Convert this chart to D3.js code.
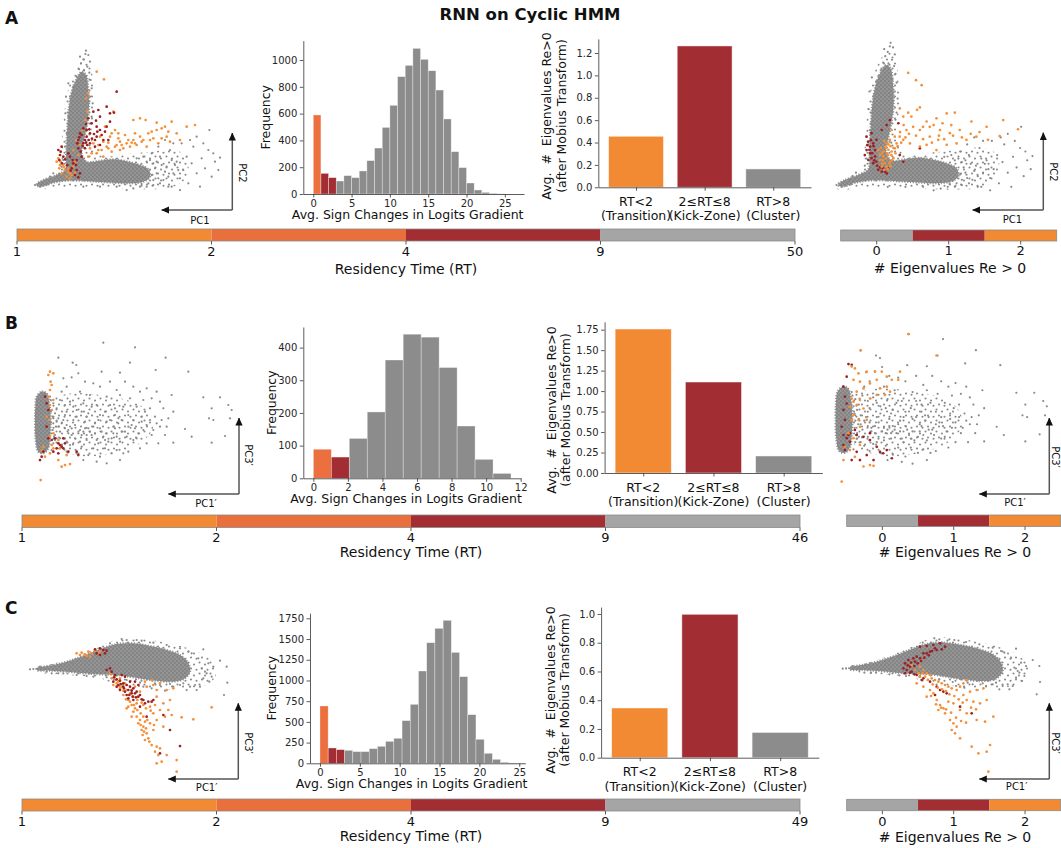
<!DOCTYPE html>
<html>
<head>
<meta charset="utf-8">
<script src="https://cdn.jsdelivr.net/npm/d3@7/dist/d3.min.js"></script>
<style>
html,body{margin:0;padding:0;background:#fff;}
svg{display:block;}
</style>
</head>
<body>
<svg id="fig" width="1061" height="848"></svg>
<script>
// ===================== Data =====================
const figureTitle = "RNN on Cyclic HMM";
const panelLetters = ["A", "B", "C"];

// Histograms: average sign changes in the logits gradient (counts per bin)
const histCountsA = [590,154,122,97,137,122,172,249,343,497,662,876,960,1087,1005,920,776,560,316,197,82,30,12,5,1];
const histCountsB = [89,65,122,203,362,441,432,339,160,58,15];
const histCountsC = [692,185,165,157,141,141,177,205,265,302,515,712,1114,1456,1629,1726,1339,1046,587,290,121,48,12,4,1];
const histBinWidth = [1.0, 1.04, 1.03];
// number of leading bins that are "transition" and "kick-zone"
const histHighlightA = [1, 2];
const histHighlightB = [1, 1];
const histHighlightC = [1, 2];
const histXTicksA = [0,5,10,15,20,25];
const histXTicksB = [0,2,4,6,8,10,12];
const histXTicksC = [0,5,10,15,20,25];
const histYTicksA = [0,200,400,600,800,1000];
const histYTicksB = [0,100,200,300,400];
const histYTicksC = [0,250,500,750,1000,1250,1500,1750];

// Average number of eigenvalues with Re>0 per residency-time class
const rtClassLines = [["RT<2","(Transition)"],["2\u2264RT\u22648","(Kick-Zone)"],["RT>8","(Cluster)"]];
const eigAvgA = [0.456, 1.263, 0.164];
const eigAvgB = [1.758, 1.111, 0.208];
const eigAvgC = [0.346, 0.998, 0.176];
const barYTicksA = [0,0.2,0.4,0.6,0.8,1.0,1.2];
const barYTicksB = [0,0.25,0.5,0.75,1.0,1.25,1.5,1.75];
const barYTicksC = [0,0.2,0.4,0.6,0.8,1.0];

// Residency-time colour bar boundaries
const rtBoundsA = [1,2,4,9,50];
const rtBoundsB = [1,2,4,9,46];
const rtBoundsC = [1,2,4,9,49];
const eigCountTicks = [0,1,2];

// ---- Hidden-state projections (PC units) ----
// dense core outline, looser halo outline, and individual points
const cloudCoreA = [[1.10,0.38],[1.30,0.50],[1.65,0.63],[1.95,0.80],[1.98,1.20],[2.00,1.70],[2.03,2.20],[2.07,2.70],[2.15,3.15],[2.28,3.50],[2.45,3.75],[2.58,3.65],[2.65,3.20],[2.67,2.70],[2.62,2.20],[2.52,1.70],[2.45,1.30],[2.60,1.05],[3.00,1.08],[3.40,1.12],[3.85,1.05],[4.20,0.95],[4.45,0.82],[4.50,0.60],[4.30,0.45],[3.90,0.40],[3.40,0.42],[2.90,0.45],[2.45,0.48],[2.00,0.48],[1.60,0.42],[1.30,0.32],[1.12,0.32]];
const cloudHaloA = [[1.05,0.30],[1.50,0.55],[1.80,0.80],[1.85,1.50],[1.90,2.20],[2.00,3.00],[2.15,3.60],[2.35,4.00],[2.55,4.15],[2.72,3.90],[2.80,3.30],[2.82,2.50],[2.75,1.80],[3.00,1.25],[3.80,1.28],[4.50,1.35],[5.20,1.40],[5.60,1.20],[5.60,0.60],[5.20,0.30],[4.40,0.22],[3.40,0.25],[2.40,0.30],[1.60,0.25],[1.10,0.22]];
const cloudGrayA = [[2.58,4.38],[2.65,4.25],[2.50,4.12],[2.43,4.00],[2.70,4.05],[2.37,3.82],[2.62,3.90],[2.52,3.80],[2.68,3.72],[2.30,3.60],[2.72,3.50],[2.20,3.30],[2.75,3.25],[2.12,2.90],[2.78,2.80],[2.05,2.40],[2.75,2.40],[2.00,1.90],[1.95,1.50],[1.90,1.10],[1.85,0.90],
[1.60,0.70],[1.50,0.60],[1.40,0.52],[1.75,0.55],[1.20,0.30],[1.05,0.35],[1.25,0.42],
[4.60,1.00],[4.70,0.70],[4.80,1.20],[4.90,0.50],[5.00,0.90],[5.10,1.40],[5.15,0.30],[5.20,0.70],[5.30,1.05],[5.40,0.55],[5.45,1.60],[5.50,0.80],[5.60,1.20],[5.65,0.40],[5.75,1.00],[5.80,1.50],[5.90,0.70],[6.00,0.30],[6.05,1.15],[6.15,0.85],[6.25,1.40],[6.35,0.60],[6.45,1.05],[6.60,1.17],[6.55,0.80],[5.70,1.70],[5.90,1.80],[5.40,0.20],[5.05,0.30],[4.60,0.35],[4.75,1.50],[4.95,1.70],[5.20,1.60],[6.10,1.60],[6.28,2.00],[6.40,1.30],
[3.00,0.30],[3.50,0.30],[4.00,0.25],[2.50,0.30],[4.20,0.30],[4.40,0.30],[3.80,0.20],
[4.30,1.20],[4.55,1.30],[4.10,1.15],[4.70,1.05],
[4.55,0.65],[4.65,0.85],[4.75,0.55],[4.85,0.95],[4.95,0.75],[5.05,0.60],[4.60,0.50],[4.80,0.40],[5.25,0.95],[5.35,0.80],[5.15,1.10],[4.50,1.10],[4.40,1.05],[4.35,0.70],[4.45,0.40],[4.25,0.38],
[1.96,2.50],[1.98,3.00],[2.70,3.00],[2.72,2.20],[2.60,1.55],[2.05,3.40],[2.40,4.20],[2.56,4.28]];
const rtOrangeA = [[2.90,3.75],[3.12,3.52],[3.40,2.55],[4.00,2.30],[4.20,2.35],[4.37,2.30],[4.70,2.22],[5.15,2.25],[5.60,2.10],[5.85,2.15],[4.95,2.10],[4.70,2.00],[4.45,1.90],[4.20,1.80],[4.00,1.70],[3.80,1.60],[3.50,1.55],[3.20,1.50],[3.05,1.40],[2.90,1.30],[3.60,1.40],[3.90,1.50],[4.30,1.70],[4.60,1.75],[5.00,1.80],[5.30,1.90],[5.40,1.70],[3.45,2.00],[3.30,1.80],[3.15,2.10],[3.00,1.80],[2.80,1.60],
[1.75,1.15],[1.82,1.05],[1.90,0.95],[1.95,0.80],[2.05,0.75],[2.10,0.70],[2.15,0.65],[2.00,0.60],[1.85,0.70],[1.78,0.85],[2.20,0.90],[2.25,1.05],[2.35,1.25],[2.40,1.55],[2.48,2.00],[2.55,2.30],[2.62,2.55],[2.58,2.95],[2.64,3.10],[2.28,1.70],[2.20,1.40],
[3.60,1.65],[3.70,1.45],[3.95,1.62],[4.10,1.55],[3.35,1.35],[3.25,1.62],[2.95,1.55],[4.40,1.50],[4.75,1.60],[5.10,1.65],[3.75,1.85],[3.55,1.90],[4.05,1.90],[2.70,1.45],[2.65,1.20],[3.10,1.20],
[3.25,1.45],[3.45,1.50],[3.65,1.55],[3.85,1.70],[4.05,1.60],[4.25,1.65],[4.50,1.70],[4.85,1.75],[4.55,1.95],[4.85,2.05],[5.05,1.95],[3.35,1.90],[3.55,1.75],[3.10,1.65],[2.95,1.40],[2.75,1.30],[1.80,0.95],[1.92,0.88],[2.05,0.85],[1.70,1.05],[2.10,0.55],[2.25,0.72]];
const rtRedA = [[3.50,3.15],[3.42,2.52],[3.30,2.25],[3.20,2.10],[3.00,2.00],[2.90,1.80],[2.70,1.90],[2.60,1.80],[2.50,1.60],[2.40,1.90],[2.35,1.70],[2.55,1.45],[2.70,1.60],[2.85,1.50],[3.00,1.55],[3.10,1.70],[3.25,1.70],[2.90,2.10],[2.75,2.20],[2.65,2.35],[2.80,2.55],[3.00,2.40],[3.30,2.50],[1.75,1.40],[1.80,1.25],[1.85,1.50],[2.20,1.00],[2.30,0.80],[2.25,0.65],[2.40,0.70],[2.15,0.85],[2.10,1.20],[2.45,1.20],[2.60,2.00],[2.95,2.60],[3.20,2.70],
[2.45,1.85],[2.55,1.70],[2.62,1.55],[2.50,2.05],[2.35,1.45],[2.42,1.35],[1.82,1.35],[1.90,1.20],[2.28,0.95],[2.35,0.58],[3.15,1.95],[2.85,1.70],
[2.32,1.60],[2.38,1.78],[2.48,1.52],[2.58,1.62],[2.66,1.70],[2.76,1.74],[2.82,1.88],[2.92,1.95],[3.05,1.85],[2.68,2.02],[2.58,2.18],[2.88,2.28],[1.78,1.10],[1.86,1.00],[1.95,1.12],[2.02,0.95],[2.12,0.78],[2.18,1.10],[2.30,1.10],[2.05,1.30]];
const eigOrangeA = [[3.08,3.53],[3.30,3.32],[3.46,3.18],[2.84,2.52],[3.08,2.40],[3.41,2.55],[3.33,2.48],[2.94,2.29],[3.60,2.15],[3.88,2.24],[4.17,2.38],[4.40,2.40],[4.87,2.15],[5.30,2.00],[5.77,2.19],[6.19,1.93],[5.67,1.74],[5.34,1.63],[5.01,1.72],[4.73,1.63],[4.45,1.53],[4.17,1.49],[3.93,1.63],[3.69,1.72],[3.41,1.91],[3.22,2.00],[3.03,1.91],[2.84,1.72],[2.75,1.53],[2.70,1.39],[2.61,1.91],[2.94,1.63],[3.13,1.53],[3.41,1.44],[3.60,1.49],[3.88,1.34],[4.26,1.82],[4.54,1.91],[3.98,1.91],[3.17,2.29],[3.69,2.00],
[2.23,1.34],[2.33,1.25],[2.37,1.16],[2.28,1.06],[2.42,0.97],[2.47,0.87],[2.56,1.01],[2.51,1.20],[2.61,1.30],[2.66,1.11],[2.33,0.87],[2.42,1.44],[2.47,1.53],[2.56,1.63],[2.70,1.72],
[2.30,1.40],[2.38,1.30],[2.45,1.10],[2.52,1.35],[2.58,1.45],[2.40,1.60],[2.55,0.95],[2.62,1.05],[2.35,0.95],[2.48,1.25],
[2.45,1.40],[2.52,1.50],[2.60,1.20],[2.66,1.40],[2.36,1.05],[2.28,1.20],[2.50,0.80],[2.58,0.88],[2.40,0.78],[2.72,1.25],[2.78,1.45],[2.88,1.55],[3.00,1.70],[3.10,1.80],[3.30,1.75],[3.50,1.65],[3.75,1.55],[3.95,1.75],[4.10,1.65],[4.35,1.75],[4.60,1.70],[4.85,1.80],[5.10,1.85],[3.50,2.00],[3.80,2.05],[4.05,2.10],[4.30,2.05],[2.95,2.05],[2.85,1.85]];
const eigRedA = [[1.90,1.72],[1.95,1.58],[2.00,1.44],[2.00,1.25],[2.04,1.11],[1.95,1.06],[2.09,0.97],[2.14,1.34],[2.09,1.53],[2.18,1.63],[2.04,1.82],[2.23,0.78],[2.33,0.73],[2.42,0.73],[2.51,0.82],[2.47,0.68],[2.37,0.82],[2.14,1.16],[2.18,1.01],[1.90,1.34],[1.85,1.20],[2.47,2.05],[2.56,2.19],[2.33,1.91],[3.41,1.39],[2.94,1.01],[2.84,1.20],[2.80,2.10],
[1.98,1.35],[2.06,1.25],[2.10,1.45],[2.02,1.62],[1.92,1.48],[2.12,1.05],[2.20,0.90],[2.28,0.85]];

const cloudCoreB = [[1.10,2.70],[1.25,2.85],[1.40,2.80],[1.48,2.50],[1.52,2.00],[1.50,1.50],[1.45,1.15],[1.30,1.00],[1.15,1.05],[1.07,1.40],[1.05,2.00],[1.06,2.40]];
const cloudHaloB = [[1.55,2.60],[2.20,2.80],[3.00,2.75],[3.80,2.60],[4.40,2.30],[4.60,1.80],[4.20,1.30],[3.40,1.00],[2.60,0.90],[2.00,1.00],[1.60,1.20],[1.50,1.80]];
const cloudGrayB = [[3.10,4.32],[4.05,4.18],[1.75,3.87],[2.18,3.72],[2.29,3.65],[3.90,3.72],[4.97,3.87],[5.65,3.45],[4.67,3.50],[3.05,3.45],[3.60,3.42],[2.35,3.40],[2.15,3.28],[1.90,3.25],[6.10,2.68],[6.60,2.68],[6.85,2.45],[6.95,2.30],[6.35,2.35],[6.27,2.05],[6.40,2.00],[6.90,2.05],[5.55,1.73],[5.75,1.50],[6.35,1.32],[6.75,1.52],[5.20,1.32],
[2.55,3.15],[2.80,3.10],[3.30,3.15],[3.75,3.15],[4.00,3.00],[4.40,2.95],[3.00,3.00],[3.50,2.90],[4.20,2.85],[4.70,2.85],[5.15,2.75],[2.40,2.85],[2.70,2.75],[3.20,2.70],[3.60,2.75],[3.90,2.65],[4.30,2.60],[4.55,2.65],[4.80,2.55],[2.00,3.00],[1.85,2.85],[1.80,2.60],[2.10,2.55],[2.50,2.50],[2.90,2.45],[3.30,2.45],[3.70,2.40],[4.10,2.40],[4.50,2.35],[4.90,2.35],[5.20,2.25],[1.70,2.35],[2.00,2.25],[2.30,2.30],[2.65,2.20],[3.00,2.15],[3.45,2.15],[3.85,2.15],[4.25,2.10],[4.65,2.10],[5.05,2.05],[1.60,2.05],[1.90,2.00],[2.20,2.00],[2.55,1.95],[2.85,1.90],[3.20,1.95],[3.55,1.90],[3.95,1.85],[4.40,1.85],[4.80,1.80],[1.75,1.80],[2.05,1.70],[2.40,1.70],[2.70,1.65],[3.05,1.65],[3.40,1.60],[3.75,1.65],[4.15,1.60],[4.55,1.55],[4.95,1.55],[1.65,1.55],[1.95,1.45],[2.25,1.45],[2.60,1.40],[2.90,1.40],[3.25,1.35],[3.60,1.35],[4.00,1.40],[4.40,1.30],[2.10,1.25],[2.45,1.20],[2.80,1.15],[3.15,1.15],[3.50,1.10],[3.85,1.05],[4.20,1.15],[2.30,1.00],[2.65,0.95],[3.00,0.90],[3.35,1.00],[3.70,1.00],[2.50,0.80],[2.90,0.75],[3.20,0.70],[3.60,0.80],[2.00,1.05],[1.85,1.20],[1.70,1.95],[1.60,2.50],[1.50,2.70],[4.75,1.30],[2.30,2.10],[2.60,2.10],[2.80,1.80],[3.10,1.50],[3.40,1.80],[2.00,1.85],[2.15,1.55],[2.45,1.55],[2.75,1.55],[1.80,1.65],[1.65,1.40],[1.95,2.15],[2.25,1.85],[2.55,1.75],[2.95,2.00],[3.30,2.00],[3.65,2.00],[4.00,2.00],[4.30,1.70],[4.60,1.70],[5.00,1.80],[3.80,1.50],[4.10,1.45],[3.50,1.50],
[1.55,2.30],[1.58,2.10],[1.60,1.90],[1.58,1.70],[1.62,1.50],[1.60,1.30],[1.55,1.10],[1.52,2.60],[1.65,2.20],[1.68,1.80],[1.70,1.45],
[1.75,2.05],[1.85,1.90],[1.95,1.75],[2.05,1.60],[2.15,1.75],[2.35,1.60],[2.50,1.65],[2.65,1.75],[2.85,1.60],[3.00,1.75],[3.20,1.60],[3.35,1.45],[2.40,1.35],[2.20,1.30],[2.00,1.35],[1.80,1.45],[1.75,1.30],[2.60,1.55],[2.95,1.30],[3.15,1.40],[3.45,1.75],[3.65,1.65],[3.85,1.80],[4.05,1.75],[4.25,1.95],[4.50,2.00],[4.70,1.90],[4.85,2.00],[3.55,2.05],[3.15,2.25],[2.45,2.25],[2.20,2.40],[1.95,2.45],[2.75,2.40],[3.45,2.35],[4.35,2.25]];
const rtOrangeB = [[1.50,3.45],[1.60,3.40],[1.45,3.35],[1.52,3.15],[1.55,3.05],[1.50,2.90],[1.45,2.70],[1.60,2.60],[1.50,2.45],[1.55,2.30],[1.40,2.10],[1.48,2.00],[1.60,1.60],[1.50,1.50],[1.55,1.25],[1.60,1.15],[1.50,1.00],[1.30,1.20],[1.25,1.10],[1.35,0.90],[1.75,0.80],[1.85,0.60],[1.95,0.65],[2.10,0.68],[2.00,0.95],[1.80,1.15],[1.22,0.20],[1.75,1.40]];
const rtRedB = [[1.35,2.70],[1.40,2.50],[1.45,2.30],[1.40,1.80],[1.45,1.45],[1.55,1.40],[1.65,1.45],[1.75,1.30],[1.80,1.25],[1.85,1.20],[1.90,1.15],[1.70,1.15],[1.60,1.05],[1.75,1.00],[1.30,1.05],[1.25,0.90],[1.20,0.80],[1.90,1.45],[1.95,1.30],[2.05,1.05],[2.35,0.95],[2.30,1.05]];
const eigOrangeB = [[3.08,4.32],[1.75,3.86],[3.87,3.72],[1.50,3.41],[1.59,3.36],[1.69,3.22],[1.92,3.27],[2.15,3.27],[2.34,3.27],[1.55,3.04],[1.73,2.99],[2.01,2.94],[2.20,3.04],[2.48,3.13],[2.62,3.04],[2.80,3.04],[2.85,3.27],[2.48,2.85],[2.29,2.80],[1.83,2.80],[1.64,2.71],[1.50,2.52],[1.55,2.43],[1.73,2.48],[2.01,2.52],[2.20,2.62],[2.43,2.62],[2.57,2.71],[1.64,2.34],[1.83,2.24],[1.55,2.06],[1.69,1.92],[1.92,1.92],[1.73,1.73],[1.41,1.55],[1.55,1.41],[1.31,1.17],[1.45,1.08],[1.73,1.22],[1.59,0.89],[1.27,0.80],[1.22,0.20],[1.83,0.62],[2.01,0.66],[2.11,0.64],[1.45,2.29],[1.50,1.92]];
const eigRedB = [[1.41,3.48],[1.50,3.46],[1.36,3.13],[1.27,2.85],[1.31,2.57],[1.36,2.38],[1.27,2.20],[1.31,1.92],[1.22,1.73],[1.27,1.50],[1.36,1.41],[1.45,1.31],[1.27,1.22],[1.31,1.08],[1.45,1.55],[1.64,1.50],[1.83,1.45],[2.01,1.36],[2.20,1.17],[2.29,1.03],[2.38,0.99],[1.64,1.03],[1.92,0.94],[2.62,0.85],[2.11,0.80],[1.73,0.80],[1.50,0.80],[1.41,1.50],[1.59,1.64],[2.01,1.55],[2.48,1.08]];

const cloudCoreC = [[1.10,3.55],[1.60,3.65],[2.00,3.75],[2.50,3.92],[3.00,4.12],[3.50,4.28],[4.00,4.30],[4.50,4.22],[5.00,4.10],[5.40,3.95],[5.65,3.70],[5.70,3.45],[5.50,3.22],[5.10,3.15],[4.50,3.20],[4.00,3.28],[3.50,3.35],[3.00,3.37],[2.50,3.40],[2.00,3.45],[1.50,3.48],[1.10,3.50]];
const cloudHaloC = [[1.00,3.50],[2.00,3.80],[3.00,4.20],[3.60,4.45],[4.50,4.40],[5.50,4.20],[6.20,3.90],[6.50,3.50],[6.30,3.10],[5.60,2.95],[4.80,2.90],[4.20,3.00],[3.50,3.05],[3.00,3.25],[2.00,3.35],[1.20,3.42]];
const cloudGrayC = [[3.65,4.43],[3.30,4.30],[4.10,4.40],[4.60,4.32],[5.00,4.25],[5.40,4.15],[5.75,4.00],[6.10,4.12],[6.60,3.78],[6.80,3.60],[6.28,3.15],[6.82,3.12],[6.72,2.75],[6.00,3.00],[5.70,3.00],[5.20,3.00],[4.80,3.05],[5.90,2.90],[6.20,3.40],[5.60,2.90],[6.40,3.60],[1.00,3.53],[0.90,3.52],[1.20,3.60],[1.40,3.45],[1.75,3.40],[2.30,3.35],[2.80,3.30],[4.95,2.88],[4.55,2.95],[4.30,3.00],[5.40,3.05],[6.10,3.25],
[6.05,3.55],[6.15,3.45],[5.95,3.85],[5.65,4.05],[6.25,3.70],[6.35,3.30],[5.85,3.05],[4.25,4.38],[3.80,4.40],[3.40,4.22],[2.90,4.05],[2.60,3.88],[2.20,3.70],[1.80,3.62],[1.55,3.40],[1.90,3.40],[2.60,3.32],[3.20,3.28],[3.80,3.20],[4.20,3.12],[4.65,3.10],[5.10,3.08],[5.50,3.10]];
const rtOrangeC = [[2.30,4.00],[2.45,4.02],[2.55,3.97],[2.65,4.05],[2.75,4.00],[2.85,4.08],[2.95,4.02],[2.60,3.92],[2.70,3.90],[2.40,3.95],[3.00,4.05],
[3.30,3.40],[3.45,3.30],[3.55,3.15],[3.40,3.05],[3.65,3.00],[3.80,2.90],[3.70,2.75],[3.85,2.60],[3.95,2.45],[3.80,2.35],[4.00,2.25],[4.10,2.10],[4.20,2.00],[4.30,1.80],[4.25,1.70],[4.40,1.60],[4.45,1.45],[4.70,1.20],[4.80,1.15],[5.00,0.95],[4.00,2.70],[4.20,2.85],[4.40,3.00],[4.60,3.05],[4.80,3.10],[5.00,2.90],[5.20,2.95],[4.70,2.70],[4.90,2.50],[5.10,2.60],[5.45,2.08],[5.80,2.02],[6.35,2.38],[4.50,2.40],[4.30,2.45],[4.10,2.50],[3.95,2.90],[3.60,3.25],[3.75,3.10],[4.05,3.00],[4.35,3.15],[4.55,3.20],[4.70,2.90],[4.15,1.90],[4.35,1.95],[4.60,2.20],[5.05,2.30],[4.70,2.00],[4.60,1.70],
[4.22,1.85],[4.32,1.65],[4.38,1.75],[4.28,1.55],[4.48,1.35],[4.55,1.25],[4.35,1.40],[4.65,1.05],[4.75,0.95],[4.70,0.70],[4.85,0.75],[5.30,0.80],[4.90,1.80],[5.15,2.15],[3.90,2.80],[3.60,2.95],[3.50,3.10],[3.85,2.40],[4.05,2.35],[3.95,2.10],[5.30,0.45],
[3.35,3.25],[3.48,3.20],[3.58,3.02],[3.70,2.88],[3.78,2.62],[3.90,2.55],[4.02,2.45],[4.12,2.30],[4.22,2.20],[4.30,2.10],[4.42,2.00],[4.50,1.90],[4.62,1.85],[4.12,2.60],[4.25,2.52],[4.38,2.35],[4.52,2.28],[4.65,2.45],[4.80,2.30],[4.95,2.10]];
const rtRedC = [[3.35,3.45],[3.45,3.35],[3.50,3.22],[3.60,3.18],[3.70,3.10],[3.80,3.05],[3.90,3.00],[4.00,2.95],[4.10,2.85],[3.95,2.80],[3.80,2.75],[3.60,2.90],[3.50,3.00],[4.20,2.75],[4.30,2.60],[4.45,2.55],[4.55,2.55],[4.60,2.60],[4.15,3.05],[4.05,3.15],[3.90,3.15],[3.75,3.30],[3.65,3.35],[3.85,2.65],[4.00,2.60],[4.90,2.15],[5.10,1.70],[5.40,1.22],[4.80,1.00],[4.40,2.10],[3.30,3.55],[3.20,3.50],[3.40,3.15],[4.20,2.40],[3.70,3.00],
[2.85,4.12],[3.00,4.15],[3.10,4.10],[3.20,4.08],[3.15,4.00],[3.00,3.95],[2.90,4.00],
[3.42,3.28],[3.55,3.05],[3.62,3.08],[3.72,2.95],[3.85,2.90],[3.95,2.88],[4.05,2.80],[4.15,2.70],[4.25,2.62],[4.35,2.50],[3.75,2.85],[3.88,2.75],[3.98,2.70],[4.08,2.68]];
const eigOrangeC = [[2.97,3.63],[3.07,3.48],[3.17,3.38],[3.22,3.28],[3.37,3.28],[3.42,3.38],[3.52,3.33],[3.57,3.23],[3.67,3.18],[3.77,3.13],[3.87,3.08],[3.97,3.03],[4.07,2.98],[4.17,2.93],[4.32,2.88],[4.42,2.98],[4.52,3.08],[4.62,3.18],[3.32,3.48],[3.22,3.58],[3.12,3.08],[3.32,2.98],[3.52,2.88],[3.62,2.78],[3.42,2.68],[3.72,2.58],[3.82,2.43],[3.92,2.33],[3.77,2.28],[3.97,2.18],[4.12,1.98],[4.22,1.88],[4.32,1.78],[4.17,1.68],[4.27,1.58],[4.42,1.43],[4.62,2.58],[4.82,2.53],[5.02,2.48],[5.22,2.58],[5.42,2.08],[5.17,1.93],[4.92,1.98],[4.77,1.18],[4.97,0.98],[5.22,1.03],[5.32,1.23],[5.27,0.43],[4.52,2.73],[4.72,2.83],[4.92,2.88],[5.12,2.93],[4.22,2.48],[4.42,2.28],[4.62,2.18],[4.07,2.53],
[3.30,3.38],[3.45,3.18],[3.60,3.05],[3.75,2.95],[3.88,2.90],[4.00,2.85],[4.10,2.75],[4.25,2.70],[4.38,2.60],[4.50,2.50],[3.55,2.70],[3.70,2.45],[3.85,2.35],[4.00,2.30],[4.15,2.20],[4.30,2.05],[4.45,1.95],[4.60,1.90],[4.75,2.35],[4.90,2.30]];
const eigRedC = [[3.22,4.18],[3.42,4.20],[3.62,4.23],[3.82,4.28],[3.97,4.18],[3.72,4.08],[3.52,4.03],[3.32,3.98],[3.12,3.88],[3.02,3.83],[2.87,3.78],[2.77,3.68],[2.72,3.53],[2.82,3.48],[2.92,3.58],[3.07,3.73],[3.22,3.83],[3.42,3.98],[3.67,4.13],[3.87,4.10],[2.77,3.38],[2.97,3.43],[3.12,3.33],[3.32,3.23],[3.52,3.13],[3.72,2.98],[3.82,2.88],[3.92,2.83],[4.02,2.78],[3.67,2.73],[4.77,2.18],[4.42,2.38],[3.27,3.18],
[2.85,3.62],[2.95,3.70],[3.05,3.60],[3.15,3.68],[3.25,3.75],[3.35,3.85],[3.48,3.92],[3.58,4.05],[2.92,3.40],[3.05,3.35]];

// ===================== Styling =====================
const FONT = '"DejaVu Sans", sans-serif';
const COL_TRANS = "#F28A33";      // RT<2 bars / colour bar
const COL_TRANS_HIST = "#EC6F3F"; // first histogram bin and 2..4 colour bar segment
const COL_KICK = "#A22E33";
const COL_CLUSTER = "#8C8C8C";
const COL_CBAR_GRAY = "#A5A5A5";
const PT_GRAY = "#8A8A8A", PT_ORANGE = "#F5903A", PT_RED = "#9C1F22";
const rtSegColors = [COL_TRANS, "#E9703D", COL_KICK, COL_CBAR_GRAY];
const eigSegColors = [COL_CBAR_GRAY, COL_KICK, COL_TRANS];

const svg = d3.select("#fig").attr("font-family", FONT);

const defs = svg.append("defs");
defs.append("marker").attr("id", "ah").attr("viewBox", "0 -4 8 8")
  .attr("refX", 7.5).attr("refY", 0).attr("markerUnits", "userSpaceOnUse")
  .attr("markerWidth", 8).attr("markerHeight", 8).attr("orient", "auto")
  .append("path").attr("d", "M0,-3.6L8,0L0,3.6Z").attr("fill", "#111");
// speckled texture for the dense part of a point cloud
const coreTex = defs.append("pattern").attr("id", "coreTex").attr("patternUnits", "userSpaceOnUse")
  .attr("width", 4).attr("height", 4);
coreTex.append("rect").attr("width", 4).attr("height", 4).attr("fill", "#959595");
coreTex.append("circle").attr("cx", 1).attr("cy", 1).attr("r", 1.15).attr("fill", "#838383");
coreTex.append("circle").attr("cx", 3).attr("cy", 3).attr("r", 1.15).attr("fill", "#868686");
// looser texture for the surrounding, less dense part
const haloTex = defs.append("pattern").attr("id", "haloTex").attr("patternUnits", "userSpaceOnUse")
  .attr("width", 11).attr("height", 11);
[[1.5,2.5],[7,4.5],[4,8.5],[9.5,9.8]].forEach(p => haloTex.append("circle")
  .attr("cx", p[0]).attr("cy", p[1]).attr("r", 1.05).attr("fill", PT_GRAY));

// Title and panel letters
svg.append("text").attr("x", 530).attr("y", 20).attr("text-anchor", "middle")
  .attr("font-weight", "bold").attr("font-size", 16.5).attr("fill", "#111").text(figureTitle);
[[5,24],[5,329],[5,614]].forEach((p, i) => {
  svg.append("text").attr("x", p[0]).attr("y", p[1]).attr("font-weight", "bold")
    .attr("font-size", 17).attr("fill", "#111").text(panelLetters[i]);
});

function styleAxis(g) {
  g.attr("font-family", FONT).attr("font-size", 10);
  g.select(".domain").attr("stroke", "#333").attr("stroke-width", 0.8);
  g.selectAll(".tick line").attr("stroke", "#333").attr("stroke-width", 0.8);
  g.selectAll(".tick text").attr("fill", "#262626");
}

// ---------- Histogram ----------
function histogram(cfg) {
  const g = svg.append("g");
  const x = d3.scaleLinear().domain(cfg.xDom).range([cfg.x0, cfg.x1]);
  const y = d3.scaleLinear().domain([0, cfg.yMax]).range([cfg.y0, cfg.y1]);
  const bins = cfg.counts.map((c, i) => ({x0: i * cfg.bw, x1: (i + 1) * cfg.bw, c, i}));
  const [nT, nK] = cfg.hl;
  g.selectAll("rect").data(bins).join("rect")
    .attr("x", d => x(d.x0)).attr("width", d => x(d.x1) - x(d.x0))
    .attr("y", d => y(d.c)).attr("height", d => y(0) - y(d.c))
    .attr("fill", d => d.i < nT ? COL_TRANS_HIST : (d.i < nT + nK ? COL_KICK : COL_CLUSTER))
    .attr("stroke", "rgba(255,255,255,0.55)").attr("stroke-width", 0.6);
  const ax = g.append("g").attr("transform", `translate(0,${cfg.y0})`)
    .call(d3.axisBottom(x).tickValues(cfg.xTicks).tickFormat(d3.format("d")).tickSize(3.5).tickSizeOuter(0).tickPadding(2.5));
  styleAxis(ax);
  const ay = g.append("g").attr("transform", `translate(${cfg.x0},0)`)
    .call(d3.axisLeft(y).tickValues(cfg.yTicks).tickFormat(d3.format("d")).tickSize(3.5).tickSizeOuter(0).tickPadding(2.5));
  styleAxis(ay);
  g.append("text").attr("x", (cfg.x0 + cfg.x1) / 2 - 6).attr("y", cfg.y0 + 20.5)
    .attr("dominant-baseline", "central").attr("text-anchor", "middle")
    .attr("font-size", 12.5).attr("fill", "#111").text("Avg. Sign Changes in Logits Gradient");
  g.append("text").attr("transform", `translate(${cfg.ylabX},${(cfg.y0 + cfg.y1) / 2}) rotate(-90)`)
    .attr("dominant-baseline", "central").attr("text-anchor", "middle")
    .attr("font-size", 12.5).attr("fill", "#111").text("Frequency");
}

// ---------- Bar chart ----------
function barChart(cfg) {
  const g = svg.append("g");
  const x = d3.scaleLinear().domain([-0.55, 2.55]).range([cfg.x0, cfg.x1]);
  const y = d3.scaleLinear().domain([0, cfg.yMax]).range([cfg.y0, cfg.y1]);
  const cols = [COL_TRANS, COL_KICK, COL_CLUSTER];
  g.selectAll("rect").data(cfg.vals).join("rect")
    .attr("x", (d, i) => x(i - 0.4)).attr("width", (d, i) => x(i + 0.4) - x(i - 0.4))
    .attr("y", d => y(d)).attr("height", d => y(0) - y(d))
    .attr("fill", (d, i) => cols[i]).attr("stroke", "rgba(255,255,255,0.6)").attr("stroke-width", 0.8);
  const ax = g.append("g").attr("transform", `translate(0,${cfg.y0})`)
    .call(d3.axisBottom(x).tickValues([0, 1, 2]).tickFormat(() => "").tickSize(3.5).tickSizeOuter(0));
  styleAxis(ax);
  rtClassLines.forEach((lines, i) => {
    lines.forEach((t, k) => {
      g.append("text").attr("x", x(i)).attr("y", cfg.y0 + 14 + k * 14.5)
        .attr("dominant-baseline", "central").attr("text-anchor", "middle")
        .attr("font-size", 12.5).attr("fill", "#111").text(t);
    });
  });
  const ay = g.append("g").attr("transform", `translate(${cfg.x0},0)`)
    .call(d3.axisLeft(y).tickValues(cfg.yTicks).tickFormat(d3.format(cfg.fmt)).tickSize(3.5).tickSizeOuter(0).tickPadding(2.5));
  styleAxis(ay);
  const yc = cfg.ylabY;
  g.append("text").attr("transform", `translate(${cfg.ylabX[0]},${yc}) rotate(-90)`)
    .attr("dominant-baseline", "central").attr("text-anchor", "middle")
    .attr("font-size", 12.5).attr("fill", "#111").attr("xml:space", "preserve").text("Avg.  #  Eigenvalues Re>0");
  g.append("text").attr("transform", `translate(${cfg.ylabX[1]},${yc}) rotate(-90)`)
    .attr("dominant-baseline", "central").attr("text-anchor", "middle")
    .attr("font-size", 12.5).attr("fill", "#111").text("(after Mobius Transform)");
}

// ---------- Projection scatter ----------
function scatter(cfg) {
  const g = svg.append("g");
  const x = d3.scaleLinear().domain([0, 7.5]).range(cfg.xr);
  const y = d3.scaleLinear().domain([0, 5]).range(cfg.yr);
  const outline = d3.line().x(d => x(d[0])).y(d => y(d[1])).curve(d3.curveCatmullRomClosed.alpha(0.5));
  if (cfg.halo) g.append("path").attr("d", outline(cfg.halo)).attr("fill", "url(#haloTex)");
  g.append("path").attr("d", outline(cfg.core)).attr("fill", "url(#coreTex)")
    .attr("stroke", PT_GRAY).attr("stroke-width", 2.2).attr("stroke-dasharray", "1.2 1.6").attr("stroke-opacity", 0.9);
  g.append("g").selectAll("circle").data(cfg.gray).join("circle")
    .attr("cx", d => x(d[0])).attr("cy", d => y(d[1])).attr("r", 1.1).attr("fill", PT_GRAY);
  cfg.layers.forEach(([pts, col]) => {
    g.append("g").selectAll("circle").data(pts).join("circle")
      .attr("cx", d => x(d[0])).attr("cy", d => y(d[1])).attr("r", 1.35).attr("fill", col);
  });
  // PC direction arrows
  const a = cfg.arrow;
  g.append("line").attr("x1", a.cx).attr("y1", a.cy).attr("x2", a.cx).attr("y2", a.top)
    .attr("stroke", "#555").attr("stroke-width", 1.5).attr("marker-end", "url(#ah)");
  g.append("line").attr("x1", a.cx).attr("y1", a.cy).attr("x2", a.left).attr("y2", a.cy)
    .attr("stroke", "#555").attr("stroke-width", 1.5).attr("marker-end", "url(#ah)");
  g.append("text").attr("x", a.xl[0]).attr("y", a.xl[1]).attr("text-anchor", "middle")
    .attr("dominant-baseline", "central").attr("font-size", 10).attr("fill", "#111").text(a.xText);
  g.append("text").attr("transform", `translate(${a.yl[0]},${a.yl[1]}) rotate(90)`).attr("text-anchor", "middle")
    .attr("dominant-baseline", "central").attr("font-size", 10).attr("fill", "#111").text(a.yText);
}

// ---------- Discrete colour bars ----------
function rtColorbar(cfg) {
  const g = svg.append("g");
  const n = cfg.bounds.length - 1;
  const x = d3.scaleLinear().domain([0, n]).range([cfg.x0, cfg.x1]);
  g.selectAll("rect").data(d3.range(n)).join("rect")
    .attr("x", i => x(i)).attr("width", i => x(i + 1) - x(i))
    .attr("y", cfg.y0).attr("height", cfg.y1 - cfg.y0).attr("fill", i => rtSegColors[i]);
  g.append("rect").attr("x", cfg.x0).attr("y", cfg.y0).attr("width", cfg.x1 - cfg.x0)
    .attr("height", cfg.y1 - cfg.y0).attr("fill", "none").attr("stroke", "#8a8a8a").attr("stroke-width", 0.8);
  cfg.bounds.forEach((b, i) => {
    g.append("line").attr("x1", x(i)).attr("x2", x(i)).attr("y1", cfg.y1).attr("y2", cfg.y1 + 3.5)
      .attr("stroke", "#333").attr("stroke-width", 0.8);
    g.append("text").attr("x", x(i)).attr("y", cfg.tickY).attr("text-anchor", "middle")
      .attr("dominant-baseline", "central").attr("font-size", 13).attr("fill", "#111").text(b);
  });
  g.append("text").attr("x", (cfg.x0 + cfg.x1) / 2).attr("y", cfg.labY).attr("text-anchor", "middle")
    .attr("dominant-baseline", "central").attr("font-size", 14).attr("fill", "#111").text("Residency Time (RT)");
}
function eigColorbar(cfg) {
  const g = svg.append("g");
  const x = d3.scaleLinear().domain([-0.5, 2.5]).range([cfg.x0, cfg.x1]);
  g.selectAll("rect").data(eigCountTicks).join("rect")
    .attr("x", d => x(d - 0.5)).attr("width", d => x(d + 0.5) - x(d - 0.5))
    .attr("y", cfg.y0).attr("height", cfg.y1 - cfg.y0).attr("fill", d => eigSegColors[d]);
  g.append("rect").attr("x", cfg.x0).attr("y", cfg.y0).attr("width", cfg.x1 - cfg.x0)
    .attr("height", cfg.y1 - cfg.y0).attr("fill", "none").attr("stroke", "#8a8a8a").attr("stroke-width", 0.8);
  eigCountTicks.forEach(t => {
    g.append("line").attr("x1", x(t)).attr("x2", x(t)).attr("y1", cfg.y1).attr("y2", cfg.y1 + 3.5)
      .attr("stroke", "#333").attr("stroke-width", 0.8);
    g.append("text").attr("x", x(t)).attr("y", cfg.tickY).attr("text-anchor", "middle")
      .attr("dominant-baseline", "central").attr("font-size", 13).attr("fill", "#111").text(t);
  });
  g.append("text").attr("x", cfg.labX).attr("y", cfg.labY).attr("text-anchor", "middle")
    .attr("dominant-baseline", "central").attr("font-size", 14).attr("fill", "#111").text("# Eigenvalues Re > 0");
}

// ===================== Row A =====================
scatter({xr: [0, 250], yr: [196.7, 30], core: cloudCoreA, halo: cloudHaloA, gray: cloudGrayA,
  layers: [[rtOrangeA, PT_ORANGE], [rtRedA, PT_RED]],
  arrow: {cx: 232.3, cy: 210, top: 133, left: 161.7, xl: [200, 220], yl: [242, 173], xText: "PC1", yText: "PC2"}});
scatter({xr: [799.5, 1064.25], yr: [197.4, 20.9], core: cloudCoreA, halo: cloudHaloA, gray: cloudGrayA,
  layers: [[eigRedA, PT_RED], [eigOrangeA, PT_ORANGE]],
  arrow: {cx: 1043.3, cy: 210, top: 132.7, left: 972.7, xl: [1012.5, 219], yl: [1053, 172], xText: "PC1", yText: "PC2"}});
histogram({counts: histCountsA, bw: histBinWidth[0], hl: histHighlightA, xTicks: histXTicksA, yTicks: histYTicksA,
  xDom: [-1.3, 27.5], yMax: 1145, x0: 303.3, x1: 524, y0: 194, y1: 40.6, ylabX: 265});
barChart({vals: eigAvgA, yTicks: barYTicksA, fmt: ".1f", yMax: 1.326, x0: 598.3, x1: 811, y0: 187.3, y1: 38.9,
  ylabX: [546, 561], ylabY: 116});
rtColorbar({bounds: rtBoundsA, x0: 17, x1: 795, y0: 229, y1: 241, tickY: 251.5, labY: 269});
eigColorbar({x0: 840.7, x1: 1056.7, y0: 230, y1: 241, tickY: 250.5, labX: 950, labY: 267.5});

// ===================== Row B =====================
scatter({xr: [0, 250], yr: [486.7, 320], core: cloudCoreB, halo: cloudHaloB, gray: cloudGrayB,
  layers: [[rtOrangeB, PT_ORANGE], [rtRedB, PT_RED]],
  arrow: {cx: 239, cy: 494, top: 418, left: 168.3, xl: [206, 503], yl: [248, 455], xText: "PC1\u2032", yText: "PC3\u2032"}});
scatter({xr: [798, 1066.5], yr: [488.7, 309.7], core: cloudCoreB, halo: cloudHaloB, gray: cloudGrayB,
  layers: [[eigRedB, PT_RED], [eigOrangeB, PT_ORANGE]],
  arrow: {cx: 1049.3, cy: 494, top: 418, left: 979.3, xl: [1015, 502.5], yl: [1055, 457], xText: "PC1\u2032", yText: "PC3\u2032"}});
histogram({counts: histCountsB, bw: histBinWidth[1], hl: histHighlightB, xTicks: histXTicksB, yTicks: histYTicksB,
  xDom: [-0.58, 12.0], yMax: 463, x0: 303.3, x1: 520.7, y0: 478.3, y1: 327, ylabX: 271.7});
barChart({vals: eigAvgB, yTicks: barYTicksB, fmt: ".2f", yMax: 1.846, x0: 604.6, x1: 822.3, y0: 473, y1: 321.8,
  ylabX: [551, 565], ylabY: 410});
rtColorbar({bounds: rtBoundsB, x0: 22, x1: 800, y0: 515, y1: 527.5, tickY: 537.5, labY: 551.5});
eigColorbar({x0: 846.7, x1: 1060.7, y0: 515, y1: 526.5, tickY: 537, labX: 955, labY: 552});

// ===================== Row C =====================
scatter({xr: [0, 250], yr: [786.7, 620], core: cloudCoreC, halo: cloudHaloC, gray: cloudGrayC,
  layers: [[rtOrangeC, PT_ORANGE], [rtRedC, PT_RED]],
  arrow: {cx: 238.3, cy: 779, top: 703.3, left: 168.3, xl: [206.7, 787.3], yl: [248, 743], xText: "PC1\u2032", yText: "PC3\u2032"}});
scatter({xr: [812.7, 1062.7], yr: [786, 619.35], core: cloudCoreC, halo: cloudHaloC, gray: cloudGrayC,
  layers: [[eigRedC, PT_RED], [eigOrangeC, PT_ORANGE]],
  arrow: {cx: 1049.3, cy: 779, top: 703.3, left: 979.3, xl: [1016.7, 786], yl: [1055, 743], xText: "PC1\u2032", yText: "PC3\u2032"}});
histogram({counts: histCountsC, bw: histBinWidth[2], hl: histHighlightC, xTicks: histXTicksC, yTicks: histYTicksC,
  xDom: [-1.25, 25.76], yMax: 1812, x0: 310, x1: 525.3, y0: 763.3, y1: 613.2, ylabX: 271.7});
barChart({vals: eigAvgC, yTicks: barYTicksC, fmt: ".1f", yMax: 1.048, x0: 601.1, x1: 818.8, y0: 757.7, y1: 607.1,
  ylabX: [550, 564], ylabY: 690});
rtColorbar({bounds: rtBoundsC, x0: 22, x1: 800, y0: 799, y1: 811, tickY: 821, labY: 835.5});
eigColorbar({x0: 846.7, x1: 1060.7, y0: 799.3, y1: 810.7, tickY: 821, labX: 955, labY: 836.5});
</script>
</body>
</html>
